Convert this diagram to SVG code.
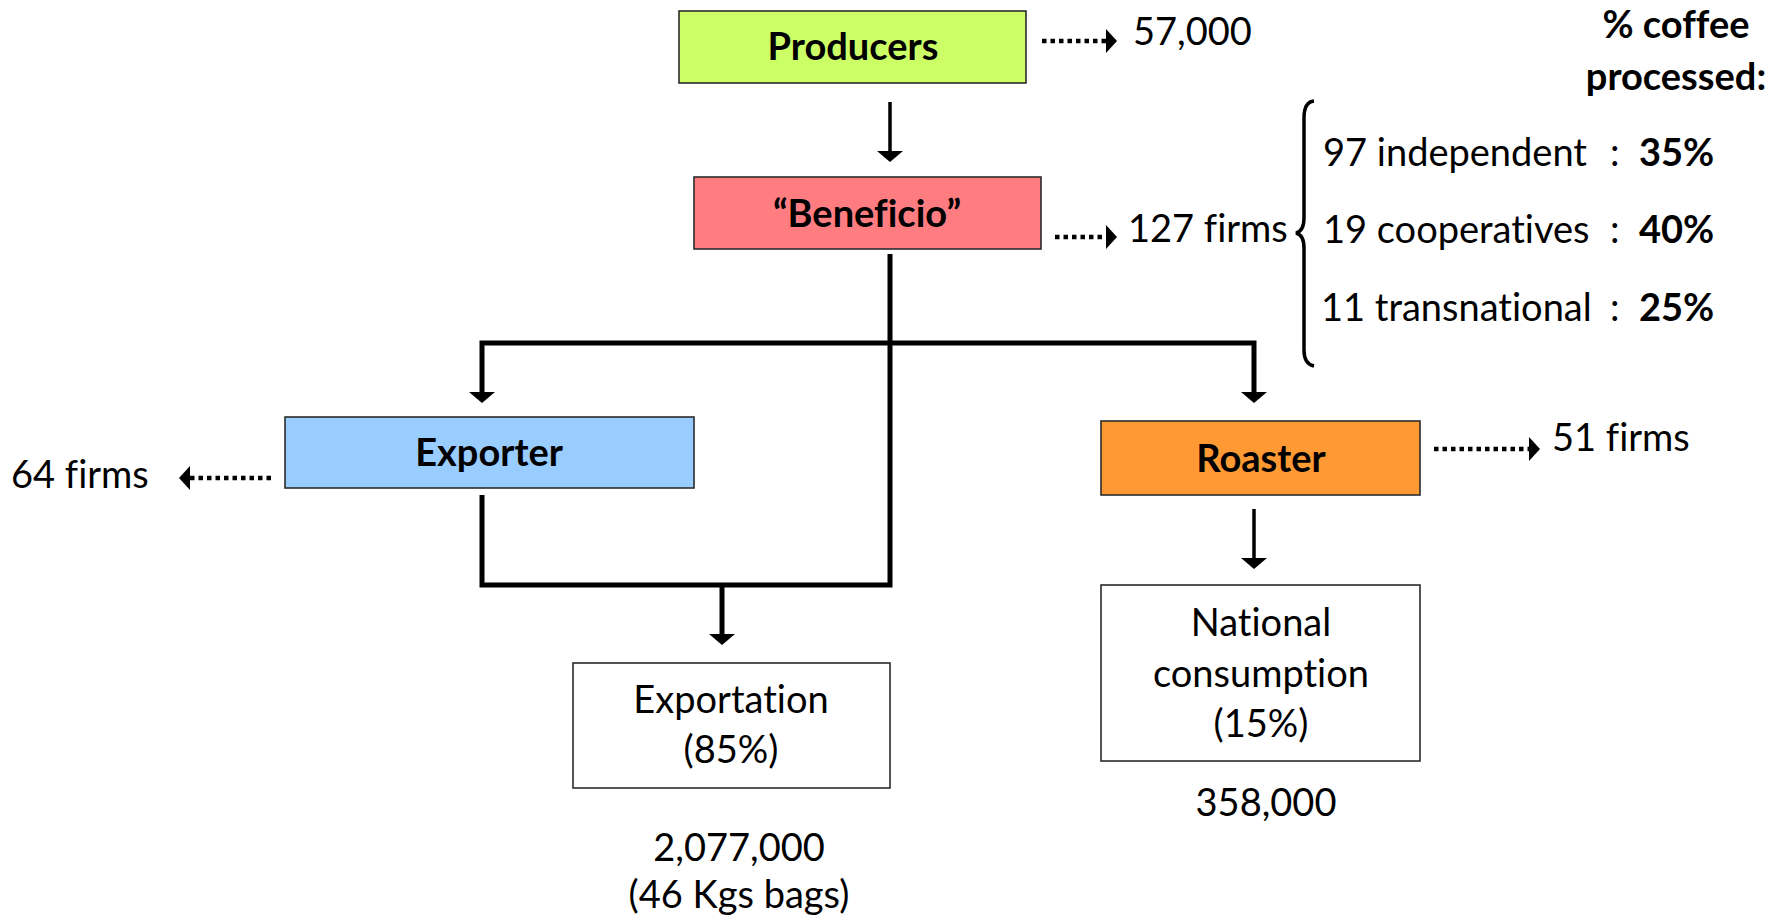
<svg xmlns="http://www.w3.org/2000/svg" width="1792" height="921" viewBox="0 0 1792 921">
<style>
.t{font-family:Lato,"Liberation Sans",sans-serif;font-size:38px;fill:#000;font-variant-ligatures:none;font-feature-settings:"liga" 0}
.b{font-weight:bold}
.m{text-anchor:middle}
.box{stroke:#2b2b2b;stroke-width:1.6}
.ln{stroke:#000;stroke-width:5;fill:none}
.thin{stroke:#000;stroke-width:3.5;fill:none}
.dot{stroke:#000;stroke-width:4.5;stroke-dasharray:4.5 4;fill:none}
.hd{fill:#000}
</style>
<rect width="1792" height="921" fill="#fff"/>
<g id="producers">
<rect class="box" x="679" y="11" width="347" height="72" fill="#CCFF66"/>
<text class="t b m" x="853" y="60">Producers</text>
</g>
<g id="beneficio">
<rect class="box" x="694" y="177" width="347" height="72" fill="#FF7C80"/>
<text class="t b m" x="867" y="227">“Beneficio”</text>
</g>
<g id="exporter">
<rect class="box" x="285" y="417" width="409" height="71" fill="#99CCFF"/>
<text class="t b m" x="489" y="466">Exporter</text>
</g>
<g id="roaster">
<rect class="box" x="1101" y="421" width="319" height="74" fill="#FF9933"/>
<text class="t b m" x="1261" y="472">Roaster</text>
</g>
<g id="exportation">
<rect class="box" x="573" y="663" width="317" height="125" fill="#fff"/>
<text class="t m" x="731" y="713">Exportation</text>
<text class="t m" x="731" y="763">(85%)</text>
</g>
<g id="national">
<rect class="box" x="1101" y="585" width="319" height="176" fill="#fff"/>
<text class="t m" x="1261" y="636">National</text>
<text class="t m" x="1261" y="687">consumption</text>
<text class="t m" x="1261" y="737">(15%)</text>
</g>
<g id="labels">
<text class="t" x="1133" y="45">57,000</text>
<text class="t" x="1128" y="242">127 firms</text>
<text class="t" x="11" y="488">64 firms</text>
<text class="t" x="1552" y="451">51 firms</text>
<text class="t b m" x="1676" y="38">% coffee</text>
<text class="t b m" x="1676" y="90">processed:</text>
<text class="t" x="1323" y="166">97 independent <tspan x="1610">:</tspan></text>
<text class="t b" x="1639" y="166">35%</text>
<text class="t" x="1323" y="243">19 cooperatives <tspan x="1610">:</tspan></text>
<text class="t b" x="1639" y="243">40%</text>
<text class="t" x="1321" y="321">11 transnational <tspan x="1610">:</tspan></text>
<text class="t b" x="1639" y="321">25%</text>
<text class="t m" x="739" y="861">2,077,000</text>
<text class="t m" x="739" y="908">(46 Kgs bags)</text>
<text class="t m" x="1266" y="816">358,000</text>
<path d="M1314,101 Q1304,102 1304,118 L1304,218 Q1304,231 1296,233 Q1304,235 1304,248 L1304,350 Q1304,364 1314,366" fill="none" stroke="#000" stroke-width="3.5"/>
</g>
<g id="connectors">
<line class="thin" x1="890" y1="102" x2="890" y2="152"/>
<polygon class="hd" points="877,151 903,151 890,162"/>
<polyline class="ln" points="890,254 890,585 482,585 482,495"/>
<polyline class="ln" points="482,395 482,343 1254,343 1254,395"/>
<polygon class="hd" points="469,392 495,392 482,403"/>
<polygon class="hd" points="1241,392 1267,392 1254,403"/>
<line class="ln" x1="722" y1="585" x2="722" y2="636"/>
<polygon class="hd" points="709,634 735,634 722,645"/>
<line class="thin" x1="1254" y1="509" x2="1254" y2="560"/>
<polygon class="hd" points="1241,558 1267,558 1254,569"/>
<line class="dot" x1="1042" y1="41" x2="1106" y2="41"/>
<polygon class="hd" points="1106,29 1117,41 1106,53"/>
<line class="dot" x1="1055" y1="237" x2="1106" y2="237"/>
<polygon class="hd" points="1106,225 1117,237 1106,249"/>
<line class="dot" x1="1434" y1="449" x2="1529" y2="449"/>
<polygon class="hd" points="1529,437 1540,449 1529,461"/>
<line class="dot" x1="271" y1="478" x2="190" y2="478"/>
<polygon class="hd" points="190,466 179,478 190,490"/>
</g>
</svg>
